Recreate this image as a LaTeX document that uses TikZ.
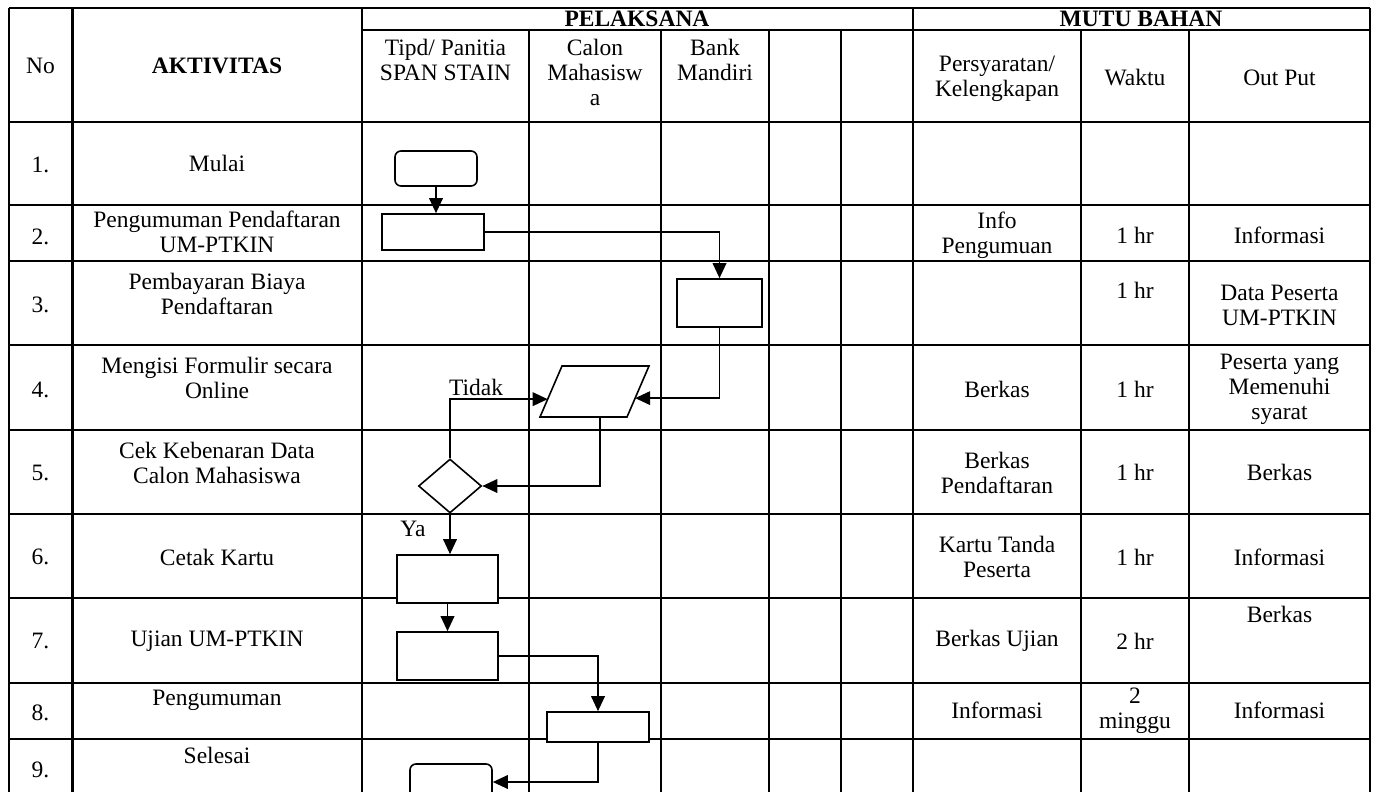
\documentclass[tikz,border=0pt]{standalone}
\usepackage{fontspec}
\setmainfont{Liberation Serif}
\usetikzlibrary{shapes.geometric,arrows.meta,calc}
\begin{document}
\begin{tikzpicture}[x=1pt,y=-1pt,
  grid/.style={line width=2.2pt},
  hgrid/.style={line width=1.9pt},
  txt/.style={font=\fontsize{23.5}{25}\selectfont, align=center, inner sep=0pt},
  hdr/.style={font=\fontsize{23.5}{25}\selectfont\bfseries, align=center, inner sep=0pt},
  proc/.style={draw, fill=white, line width=1.6pt, inner sep=0pt, rectangle},
  term/.style={proc, rounded corners=6pt},
  shp/.style={draw, fill=white, line width=1.6pt, inner sep=0pt},
  flow/.style={line width=1.9pt},
  arr/.style={flow, -{Triangle[length=15pt,width=13.5pt]}},
]
\clip (0,0) rectangle (1373,792);
\fill[white] (0,0) rectangle (1373,792);

% table grid
\draw[grid] (9,8) -- (1370,8);
\draw[grid] (9,8) -- (9,792);
\draw[grid] (1370,8) -- (1370,792);
\draw[grid] (72.5,8) -- (72.5,792);
\draw[grid] (362,8) -- (362,792);
\draw[grid] (913,8) -- (913,792);
\foreach \x in {529,661,769,841,1081,1189} \draw[grid] (\x,30) -- (\x,792);
\draw[hgrid] (362,30) -- (1370,30);
\foreach \y in {122,205,261,345,430,514,598,683,739} \draw[hgrid] (9,\y) -- (1370,\y);

% header
\node[txt] (hno) at (40.5,66) {No};
\node[hdr] (hakt) at (217,66) {AKTIVITAS};
\node[hdr] (hpel) at (637,19) {PELAKSANA};
\node[hdr] (hmutu) at (1141,19) {MUTU BAHAN};
\node[txt] (htipd) at (445.5,60) {Tipd/ Panitia\\SPAN STAIN};
\node[txt] (hcalon) at (595,72) {Calon\\Mahasisw\\a};
\node[txt] (hbank) at (715,60) {Bank\\Mandiri};
\node[txt] (hsyarat) at (997,79) {Persyaratan/\\Kelengkapan};
\node[txt] (hwaktu) at (1135,78) {Waktu};
\node[txt] (hout) at (1279.5,78) {Out Put};

% No column
\node[txt] (n1) at (40.5,165) {1.};
\node[txt] (n2) at (40.5,237) {2.};
\node[txt] (n3) at (40.5,305) {3.};
\node[txt] (n4) at (40.5,390) {4.};
\node[txt] (n5) at (40.5,473) {5.};
\node[txt] (n6) at (40.5,557) {6.};
\node[txt] (n7) at (40.5,641) {7.};
\node[txt] (n8) at (40.5,713) {8.};
\node[txt] (n9) at (40.5,770) {9.};

% Aktivitas
\node[txt] (a1) at (217,163) {Mulai};
\node[txt] (a2) at (217,232) {Pengumuman Pendaftaran\\UM-PTKIN};
\node[txt] (a3) at (217,294) {Pembayaran Biaya\\Pendaftaran};
\node[txt] (a4) at (217,378) {Mengisi Formulir secara\\Online};
\node[txt] (a5) at (217,463) {Cek Kebenaran Data\\Calon Mahasiswa};
\node[txt] (a6) at (217,557) {Cetak Kartu};
\node[txt] (a7) at (217,641) {Ujian UM-PTKIN};
\node[txt] (a8) at (217,700) {Pengumuman};
\node[txt] (a9) at (217,755) {Selesai};

% Persyaratan
\node[txt] (p2) at (997,235) {Info\\Pengumuan};
\node[txt] (p4) at (997,389) {Berkas};
\node[txt] (p5) at (997,473) {Berkas\\Pendaftaran};
\node[txt] (p6) at (997,557) {Kartu Tanda\\Peserta};
\node[txt] (p7) at (997,641) {Berkas Ujian};
\node[txt] (p8) at (997,710) {Informasi};

% Waktu
\node[txt] (w2) at (1135,235) {1 hr};
\node[txt] (w3) at (1135,290) {1 hr};
\node[txt] (w4) at (1135,389) {1 hr};
\node[txt] (w5) at (1135,472) {1 hr};
\node[txt] (w6) at (1135,557) {1 hr};
\node[txt] (w7) at (1135,641) {2 hr};
\node[txt] (w8) at (1135,711) {2\\minggu};

% Out Put
\node[txt] (o2) at (1279.5,235) {Informasi};
\node[txt] (o3) at (1279.5,305) {Data Peserta\\UM-PTKIN};
\node[txt] (o4) at (1279.5,389) {Peserta yang\\Memenuhi\\syarat};
\node[txt] (o5) at (1279.5,472) {Berkas};
\node[txt] (o6) at (1279.5,557) {Informasi};
\node[txt] (o7) at (1279.5,614) {Berkas};
\node[txt] (o8) at (1279.5,710) {Informasi};

% flowchart shapes
\node[term, minimum width=82, minimum height=35] (start) at (436,168.5) {};
\node[proc, minimum width=102, minimum height=36] (b2) at (433,232) {};
\node[proc, minimum width=85, minimum height=48] (b3) at (719.5,303) {};
% parallelogram (input/output)
\coordinate (pTL) at (562,366);
\coordinate (pTR) at (649,366);
\coordinate (pBR) at (627,417);
\coordinate (pBL) at (540,417);
\draw[shp] (pTL) -- (pTR) -- (pBR) -- (pBL) -- cycle;
\node[shp, diamond, minimum width=63, minimum height=54] (dec) at (450,486) {};
\node[proc, minimum width=101, minimum height=48] (b6) at (447.5,579) {};
\node[proc, minimum width=101, minimum height=48] (b7) at (447.5,656) {};
\node[proc, minimum width=102, minimum height=30] (b8) at (598,727) {};
\node[term, minimum width=82, minimum height=36] (stop) at (451,782) {};

% labels
\node[txt] (tidak) at (476,387) {Tidak};
\node[txt] (ya) at (413,529) {Ya};

% connectors
\coordinate (pR) at ($(pBR)!0.37!(pTR)$);
\coordinate (pB) at ($(pBL)!0.69!(pBR)$);
\coordinate (pL) at ($(pBL)!0.35!(pTL)$);
\draw[arr] (start.south) -- (start.south |- b2.north);
\draw[arr] (b2.east) -| (b3.north);
\draw[arr] (b3.south) |- (pR);
\draw[arr] (pB) |- (dec.east);
\draw[arr] (dec.north) |- (pL);
\draw[arr] (dec.south) -- (dec.south |- b6.north);
\draw[arr] (b6.south) -- (b7.north);
\draw[arr] (b7.east) -| (b8.north);
\draw[arr] (b8.south) |- (stop.east);
\end{tikzpicture}
\end{document}
